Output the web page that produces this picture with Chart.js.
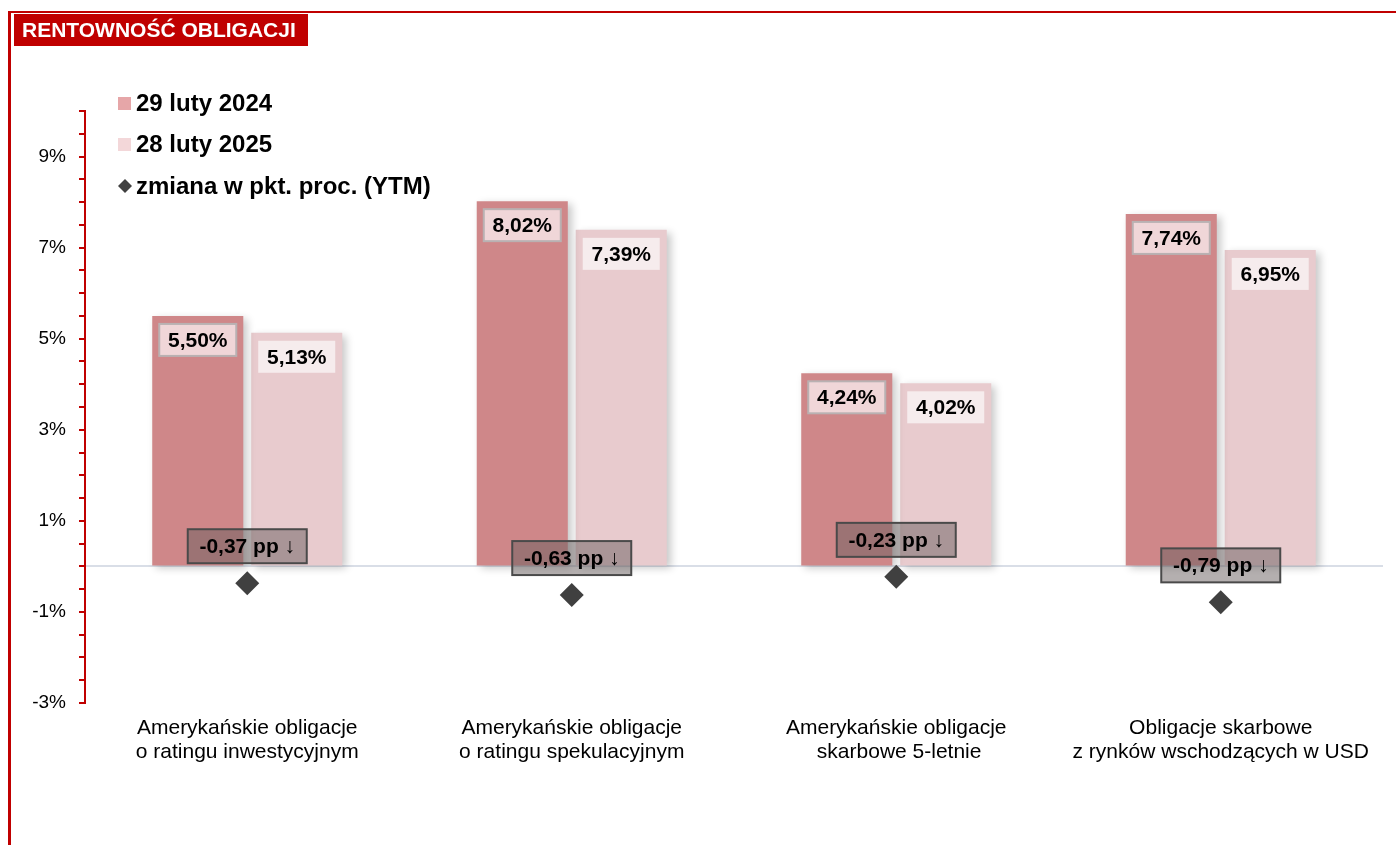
<!DOCTYPE html>
<html>
<head>
<meta charset="utf-8">
<script src="https://cdn.jsdelivr.net/npm/chart.js@4.4.1/dist/chart.umd.min.js"></script>
<style>
  html, body { margin: 0; padding: 0; background: #fff; }
  #wrap { position: relative; width: 1396px; height: 845px; }
</style>
</head>
<body>
<div id="wrap"><canvas id="bondsChart" width="1396" height="845"></canvas></div>
<script>
const categories = [
  ["Amerykańskie obligacje", "o ratingu inwestycyjnym"],
  ["Amerykańskie obligacje", "o ratingu spekulacyjnym"],
  ["Amerykańskie obligacje", " skarbowe 5-letnie"],
  ["Obligacje skarbowe", "z rynków wschodzących w USD"]
];
const yield2024 = [5.50, 8.02, 4.24, 7.74];
const yield2025 = [5.13, 7.39, 4.02, 6.95];
const changePP = [-0.37, -0.63, -0.23, -0.79];
const seriesNames = ["29 luty 2024", "28 luty 2025", "zmiana w pkt. proc. (YTM)"];
const chartTitle = "RENTOWNOŚĆ OBLIGACJI";

const FONT = "'Liberation Sans', Arial, sans-serif";
const RED = "#c00000";
const fmtPct = v => v.toFixed(2).replace('.', ',') + '%';
const fmtPP = v => v.toFixed(2).replace('.', ',') + ' pp ' + (v < 0 ? '↓' : '↑');

// frame + title box
const framePlugin = {
  id: 'frame',
  beforeDraw(chart) {
    const ctx = chart.ctx;
    ctx.save();
    ctx.fillStyle = RED;
    ctx.fillRect(8, 11, chart.width - 8, 2);
    ctx.fillRect(8, 11, 3, chart.height - 11);
    ctx.fillRect(14, 14, 294, 32);
    ctx.fillStyle = '#fff';
    ctx.font = 'bold 21px ' + FONT;
    ctx.textBaseline = 'middle';
    ctx.fillText(chartTitle, 22, 31);
    ctx.restore();
  }
};

// soft shadow behind the bars
const shadowPlugin = {
  id: 'barShadow',
  beforeDatasetDraw(chart, args) {
    if (chart.data.datasets[args.index].type !== 'bar') return;
    const ctx = chart.ctx;
    ctx.save();
    ctx.shadowColor = 'rgba(0,0,0,0.22)';
    ctx.shadowBlur = 8;
    ctx.shadowOffsetX = 4;
    ctx.shadowOffsetY = 3;
  },
  afterDatasetDraw(chart, args) {
    if (chart.data.datasets[args.index].type !== 'bar') return;
    chart.ctx.restore();
  }
};

// value boxes on bars and change boxes above diamonds
const labelPlugin = {
  id: 'boxLabels',
  afterDatasetsDraw(chart) {
    const ctx = chart.ctx;
    ctx.save();
    ctx.font = 'bold 21px ' + FONT;
    ctx.textAlign = 'center';
    ctx.textBaseline = 'middle';
    chart.data.datasets.forEach((ds, i) => {
      const meta = chart.getDatasetMeta(i);
      meta.data.forEach((el, j) => {
        const v = ds.data[j];
        if (ds.type === 'bar') {
          const w = 77, h = 32;
          const x = el.x - w / 2, y = el.y + 8;
          ctx.fillStyle = i === 0 ? '#f0d6d8' : '#f6eced';
          ctx.fillRect(x, y, w, h);
          if (i === 0) {
            ctx.strokeStyle = '#b9b1b2';
            ctx.lineWidth = 2;
            ctx.strokeRect(x, y, w, h);
          }
          ctx.fillStyle = '#000';
          ctx.fillText(fmtPct(v), el.x, y + h / 2 + 1);
        } else {
          const w = 119, h = 34;
          const cy = el.y - 37;
          ctx.fillStyle = 'rgba(105,95,96,0.5)';
          ctx.fillRect(el.x - w / 2, cy - h / 2, w, h);
          ctx.strokeStyle = '#4a4a4a';
          ctx.lineWidth = 2;
          ctx.strokeRect(el.x - w / 2, cy - h / 2, w, h);
          ctx.fillStyle = '#000';
          ctx.fillText(fmtPP(v), el.x, cy + 1);
        }
      });
    });
    ctx.restore();
  }
};

// legend in the upper left of the plot
const legendPlugin = {
  id: 'cornerLegend',
  afterDraw(chart) {
    const ctx = chart.ctx;
    ctx.save();
    ctx.font = 'bold 24px ' + FONT;
    ctx.textBaseline = 'middle';
    const rows = [103, 144, 186];
    chart.data.datasets.forEach((ds, i) => {
      const cy = rows[i];
      ctx.fillStyle = ds.legendColor;
      if (ds.type === 'bar') {
        ctx.fillRect(118, cy - 6, 13, 13);
      } else {
        ctx.beginPath();
        ctx.moveTo(125, cy - 7);
        ctx.lineTo(132, cy);
        ctx.lineTo(125, cy + 7);
        ctx.lineTo(118, cy);
        ctx.closePath();
        ctx.fill();
      }
      ctx.fillStyle = '#000';
      ctx.fillText(ds.label, 136, cy + 1);
    });
    ctx.restore();
  }
};

const data = {
  labels: categories,
  datasets: [
    {
      type: 'bar',
      label: seriesNames[0],
      data: yield2024,
      backgroundColor: '#cf8789',
      legendColor: '#e6a6a8',
      order: 2
    },
    {
      type: 'bar',
      label: seriesNames[1],
      data: yield2025,
      backgroundColor: '#e8cbce',
      legendColor: '#f3d7d9',
      order: 2
    },
    {
      type: 'line',
      label: seriesNames[2],
      data: changePP,
      showLine: false,
      pointStyle: 'rectRot',
      pointRadius: 12,
      pointHoverRadius: 12,
      backgroundColor: '#404040',
      borderColor: '#404040',
      borderWidth: 0,
      legendColor: '#404040',
      order: 1
    }
  ]
};

const options = {
  responsive: false,
  animation: false,
  devicePixelRatio: 1,
  layout: { padding: { left: 0, top: 111, right: 13, bottom: 0 } },
  datasets: {
    bar: { categoryPercentage: 0.61, barPercentage: 0.92 }
  },
  plugins: {
    legend: { display: false },
    tooltip: { enabled: false }
  },
  scales: {
    x: {
      grid: { display: false, drawTicks: false },
      border: { display: false },
      ticks: {
        color: '#000',
        font: { family: FONT, size: 21, lineHeight: 1.15 },
        padding: 13,
        maxRotation: 0,
        autoSkip: false
      },
      afterFit(scale) { scale.height = 142; }
    },
    y: {
      min: -3,
      max: 10,
      border: { display: true, color: RED, width: 2 },
      grid: {
        drawOnChartArea: true,
        color: ctx => (ctx.tick && ctx.tick.value === 0) ? '#d9dee7' : 'rgba(0,0,0,0)',
        lineWidth: 2,
        tickLength: 6,
        tickColor: RED,
        tickWidth: 2
      },
      ticks: {
        stepSize: 0.5,
        autoSkip: false,
        padding: 13,
        color: '#000',
        font: { family: FONT, size: 19 },
        callback: v => (Number.isInteger(v) && Math.abs(v) % 2 === 1) ? v + '%' : ''
      },
      afterFit(scale) { scale.width = 85; }
    }
  }
};

const ctx = document.getElementById('bondsChart').getContext('2d');
new Chart(ctx, {
  type: 'bar',
  data,
  options,
  plugins: [framePlugin, shadowPlugin, labelPlugin, legendPlugin]
});
</script>
</body>
</html>
